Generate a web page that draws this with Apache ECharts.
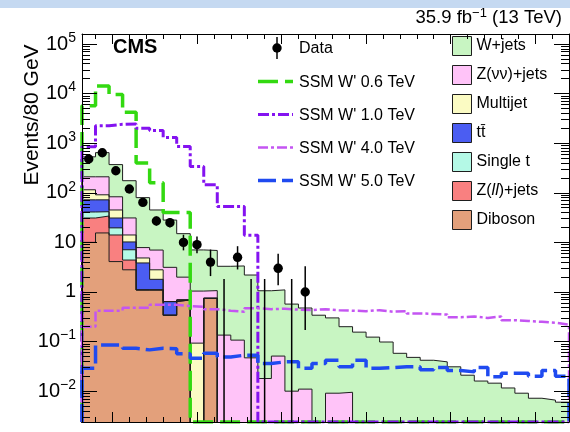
<!DOCTYPE html>
<html><head><meta charset="utf-8">
<script src="https://cdn.jsdelivr.net/npm/echarts@6/dist/echarts.min.js"></script>
<style>
html,body{margin:0;padding:0;background:#fff;}
#band{position:absolute;left:0;top:0;width:570px;height:8px;background:#c5d9f1;}
#chart{position:absolute;left:0;top:0;width:570px;height:432px;}
</style></head><body>
<div id="band"></div>
<div id="chart"></div>
<script>
// ---- binning (GeV) ----
const xMin = 320, binWidth = 80, nBins = 36;
const xMax = xMin + nBins * binWidth;
const xMajorTicks = [500, 1000, 1500, 2000, 2500, 3000];
const xMinorTicks = [400, 600, 700, 800, 900, 1100, 1200, 1300, 1400, 1600, 1700, 1800, 1900, 2100, 2200, 2300, 2400, 2600, 2700, 2800, 2900, 3100, 3200];
const yMin = 0.00239, yMax = 159000;

// ---- observed data (events per bin) ----
const dataCounts = [480, 640, 278, 119, 64, 27, 25, 10, 9, 4, 0, 5, 0, 0, 3, 0, 1];

// ---- backgrounds (events per bin) ----
const diboson  = [10, 15.5, 4.1, 2.8, 1.1, 1.1, 0.34, 0.69, 0, 0.745, 0,0,0,0,0,0,0,0,0,0,0,0,0,0,0,0,0,0,0,0,0,0,0,0,0,0];
const zll      = [21, 18.5, 10, 1.6, 0,0,0,0,0,0,0,0,0,0,0,0,0,0,0,0,0,0,0,0,0,0,0,0,0,0,0,0,0,0,0,0];
const singleT  = [10, 7.5, 5.5, 2.7, 0,0,0,0,0,0,0,0,0,0,0,0,0,0,0,0,0,0,0,0,0,0,0,0,0,0,0,0,0,0,0,0];
const ttbar    = [31, 30.5, 11.4, 3.1, 2.75, 0.7, 0.3, 0,0,0,0,0,0,0,0,0,0,0,0,0,0,0,0,0,0,0,0,0,0,0,0,0,0,0,0,0];
const multijet = [43, 19, 14, 3.9, 1.0, 1.0, 0, 0, 0.093, 0,0,0,0,0,0,0,0,0,0,0,0,0,0,0,0,0,0,0,0,0,0,0,0,0,0,0];
const zvv      = [95, 119, 38, 17, 3.0, 4.2, 2.5, 1.3, 0.95, 0.32, 0.135, 0.107, 0.047, 0.018, 0.051, 0.01, 0.011, 0, 0.0091, 0.0095, 0,0,0,0,0,0,0,0,0,0,0,0,0,0,0,0];
const wjets    = [320, 435, 287, 144, 72, 38, 25, 13, 6.0, 5.8, 3.16, 3.24, 2.15, 1.04, 1.05, 0.56, 0.464, 0.34, 0.291, 0.19, 0.155, 0.123, 0.098, 0.058, 0.048, 0.042, 0.039, 0.031, 0.021, 0.016, 0.0145, 0.0116, 0.0091, 0.0072, 0.0066, 0.006];

// ---- signals ----
const sig06 = [5700, 14200, 9600, 4200, 400, 160, 40, 40, 0,0,0,0,0,0,0,0,0,0,0,0,0,0,0,0,0,0,0,0,0,0,0,0,0,0,0,0];
const sig10 = [850, 2250, 2400, 2450, 2000, 1800, 1300, 860, 340, 145, 53, 53, 14, 0,0,0,0,0,0,0,0,0,0,0,0,0,0,0,0,0,0,0,0,0,0,0];
const sig40 = [0.2, 0.42, 0.42, 0.48, 0.48, 0.55, 0.55, 0.52, 0.5, 0.45, 0.42, 0.4, 0.47, 0.45, 0.46, 0.44, 0.43, 0.45, 0.43, 0.42, 0.41, 0.43, 0.4, 0.41, 0.37, 0.36, 0.35, 0.31, 0.32, 0.3, 0.32, 0.27, 0.26, 0.25, 0.24, 0.22];
const sig50 = [0.029, 0.085, 0.085, 0.073, 0.068, 0.073, 0.072, 0.057, 0.046, 0.058, 0.049, 0.053, 0.053, 0.036, 0.039, 0.039, 0.029, 0.036, 0.042, 0.031, 0.042, 0.029, 0.03, 0.031, 0.031, 0.027, 0.030, 0.026, 0.0245, 0.030, 0.0195, 0.023, 0.023, 0.020, 0.026, 0.020];

const FONT = '"Liberation Sans", Arial, Helvetica, sans-serif';
const yFloor = yMin / 100;

function addArr(a, b) { return a.map((v, i) => v + b[i]); }
function steps(vals, zeroVal) {
  const pts = [[xMin, zeroVal]];
  vals.forEach((v, i) => pts.push([xMin + i * binWidth, v > 0 ? v : zeroVal]));
  const last = vals[vals.length - 1];
  pts.push([xMax, last > 0 ? last : zeroVal]);
  pts.push([xMax, zeroVal]);
  return pts;
}

const bgDefs = [
  { name: 'Diboson', vals: diboson, color: '#e3a07b' },
  { name: 'Z(ll)+jets', vals: zll, color: '#f98080' },
  { name: 'Single t', vals: singleT, color: '#b4f9e6' },
  { name: 'tt\u0304', vals: ttbar, color: '#4b5df2' },
  { name: 'Multijet', vals: multijet, color: '#fbfbc3' },
  { name: 'Z(\u03bd\u03bd)+jets', vals: zvv, color: '#ffc3f8' },
  { name: 'W+jets', vals: wjets, color: '#c8f5c2' }
];
let cum = new Array(nBins).fill(0);
bgDefs.forEach(d => { cum = addArr(cum, d.vals); d.cum = cum.slice(); });

const series = [];
bgDefs.slice().reverse().forEach(d => {
  series.push({
    type: 'line', name: d.name, step: 'end', data: steps(d.cum, yFloor),
    symbol: 'none', showSymbol: false, silent: true, animation: false, clip: true,
    color: d.color,
    lineStyle: { color: '#1e1e1e', width: 1 },
    areaStyle: { color: d.color, opacity: 1, origin: 'start' },
    z: 2
  });
});

const sigDefs = [
  { name: "SSM W' 0.6 TeV", vals: sig06, color: '#33d911', width: 3.5, type: [20, 7] },
  { name: "SSM W' 1.0 TeV", vals: sig10, color: '#8413f0', width: 3, type: [11, 3, 3, 3] },
  { name: "SSM W' 4.0 TeV", vals: sig40, color: '#c455f2', width: 2.5, type: [10, 3, 3, 3] },
  { name: "SSM W' 5.0 TeV", vals: sig50, color: '#1f4af0', width: 3.5, type: [18, 6] }
];
sigDefs.forEach(d => {
  series.push({
    type: 'line', name: d.name, step: 'end', data: steps(d.vals, yMin),
    symbol: 'none', showSymbol: false, silent: true, animation: false, clip: true,
    color: d.color,
    lineStyle: { color: d.color, width: d.width, type: d.type },
    z: 3
  });
});

function poisLow(n) { if (n <= 0) return 0; return n * Math.pow(1 - 1 / (9 * n) - 1 / (3 * Math.sqrt(n)), 3); }
function poisUp(n) { const m = n + 1; return m * Math.pow(1 - 1 / (9 * m) + 1 / (3 * Math.sqrt(m)), 3); }
const dataPts = dataCounts.map((n, i) => [xMin + (i + 0.5) * binWidth, n, poisLow(n), poisUp(n)]);
series.push({
  type: 'custom', name: 'Data', data: dataPts, clip: true, silent: true, animation: false, z: 5,
  renderItem: (params, api) => {
    const x = api.value(0), n = api.value(1), lo = api.value(2), hi = api.value(3);
    const top = api.coord([x, hi]);
    const bot = api.coord([x, lo > 0 ? lo : yFloor]);
    const children = [{ type: 'line', shape: { x1: top[0], y1: top[1], x2: bot[0], y2: bot[1] }, style: { stroke: '#000', lineWidth: 1.5 } }];
    if (n > 0) {
      const c = api.coord([x, n]);
      children.push({ type: 'circle', shape: { cx: c[0], cy: c[1], r: 4.7 }, style: { fill: '#000' } });
    }
    return { type: 'group', children };
  }
});

function yLabel(v) {
  const e = Math.log10(v), r = Math.round(e);
  if (Math.abs(e - r) > 1e-6) return '';
  if (r === 0) return '{b|1}';
  if (r === 1) return '{b|10}';
  return '{b|10}{s|' + (r < 0 ? '\u2212' + (-r) : r) + '}';
}
const axLine = { show: true, lineStyle: { color: '#000', width: 1 } };
function xAx(pos, vals, len, line) {
  return { type: 'value', min: xMin, max: xMax, position: pos, z: 10,
    axisLine: line ? axLine : { show: false },
    axisTick: { show: true, inside: true, length: len, customValues: vals, lineStyle: { color: '#000', width: 1 } },
    axisLabel: { show: false }, splitLine: { show: false } };
}
const yMinor = [];
for (let e = -3; e <= 5; e++) for (let m = 2; m <= 9; m++) { const v = m * Math.pow(10, e); if (v > yMin && v < yMax) yMinor.push(v); }
function yAx(pos, major, label) {
  const a = { type: 'log', logBase: 10, min: yMin, max: yMax, position: pos, z: 10, splitNumber: 8,
    axisLine: major ? axLine : { show: false },
    axisTick: { show: true, inside: true, length: major ? 15 : 8, lineStyle: { color: '#000', width: 1 } },
    axisLabel: { show: false }, splitLine: { show: false }, minorTick: { show: false } };
  if (!major) a.axisTick.customValues = yMinor;
  if (label) a.axisLabel = { show: true, margin: 6, formatter: yLabel, color: '#000',
    rich: { b: { fontSize: 20, fontFamily: FONT, color: '#000' }, s: { fontSize: 14, fontFamily: FONT, color: '#000', padding: [0, 0, 12, 0] } } };
  return a;
}

const sigLegend = [];
sigDefs.forEach((d, i) => {
  const y = 81.5 + i * 33;
  sigLegend.push({ type: 'line', shape: { x1: 258, y1: y, x2: 293, y2: y }, style: { stroke: d.color, lineWidth: d.width, lineDash: d.type } });
  sigLegend.push({ type: 'text', x: 299, y: y + 1, style: { text: d.name, verticalAlign: 'middle', font: '16px ' + FONT, fill: '#000' } });
});

const chart = echarts.init(document.getElementById('chart'), null, { renderer: 'canvas' });
chart.setOption({
  animation: false,
  grid: { left: 82, right: 1, top: 34, bottom: 10, containLabel: false },
  xAxis: [xAx('bottom', xMajorTicks, 10, true), xAx('bottom', xMinorTicks, 5, false), xAx('top', xMajorTicks, 10, true), xAx('top', xMinorTicks, 5, false)],
  yAxis: [yAx('left', true, true), yAx('left', false, false), yAx('right', true, false), yAx('right', false, false)],
  legend: [
    { orient: 'vertical', left: 452, top: 36, padding: 0, itemWidth: 19, itemHeight: 19, itemGap: 9, selectedMode: false,
      textStyle: { fontSize: 16, fontFamily: FONT, color: '#000', rich: { i: { fontSize: 16, fontFamily: FONT, fontStyle: 'italic', color: '#000' } } },
      formatter: n => n === 'Z(ll)+jets' ? 'Z({i|ll})+jets' : n,
      data: bgDefs.slice().reverse().map(d => ({ name: d.name, icon: 'rect', itemStyle: { color: d.color, borderColor: '#1e1e1e', borderWidth: 1 } })) }
  ],
  graphic: [
    { type: 'text', left: 113, top: 37, style: { text: 'CMS', font: 'bold 20px ' + FONT, fill: '#000' } },
    { type: 'text', x: 562, y: 18, style: { text: '35.9 fb{s|\u22121} (13 TeV)', align: 'right', verticalAlign: 'middle', font: '18.5px ' + FONT, fill: '#000',
        rich: { s: { fontSize: 13, fontFamily: FONT, fill: '#000', padding: [0, 0, 9, 0] } } } },
    { type: 'text', x: 32, y: 115, rotation: Math.PI / 2, style: { text: 'Events/80 GeV', align: 'center', verticalAlign: 'middle', font: '21px ' + FONT, fill: '#000' } },
    { type: 'line', shape: { x1: 277, y1: 37, x2: 277, y2: 59 }, style: { stroke: '#000', lineWidth: 1.5 } },
    { type: 'circle', shape: { cx: 277, cy: 48, r: 4.7 }, style: { fill: '#000' } },
    { type: 'text', x: 299, y: 49, style: { text: 'Data', verticalAlign: 'middle', font: '16px ' + FONT, fill: '#000' } }
  ].concat(sigLegend),
  series
});
</script>
</body></html>
